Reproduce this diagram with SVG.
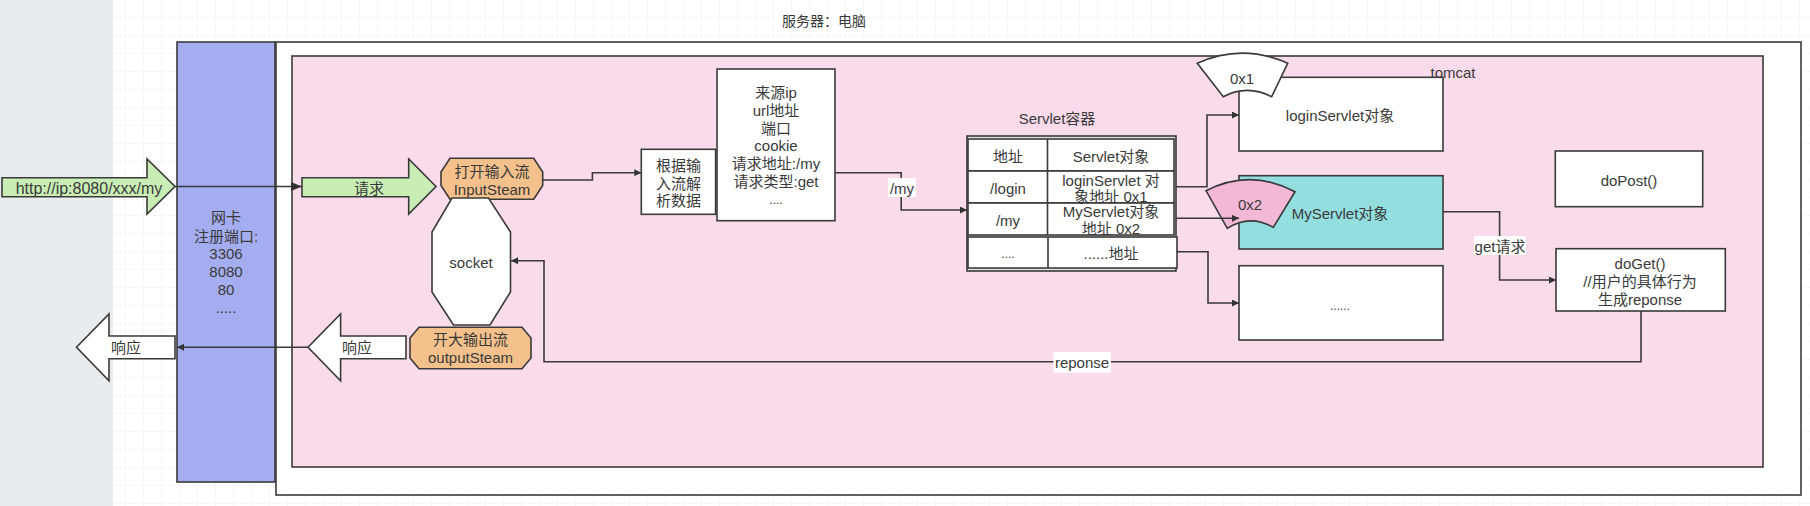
<svg xmlns="http://www.w3.org/2000/svg" width="1810" height="506" viewBox="0 0 1810 506">
<style>
text{font-family:"Liberation Sans","Noto Sans CJK SC",sans-serif;font-size:15px;fill:#3a3a3a;text-anchor:middle;dominant-baseline:central}
.s{stroke:#3a3a3a;stroke-width:1.6}
.w{fill:#fff}
.c{fill:none;stroke:#3a3a3a;stroke-width:1.6}
.lb{fill:#fff;stroke:none}
</style>
<defs>
<pattern id="grid" width="18" height="18" patternUnits="userSpaceOnUse">
<path d="M18 0V18M0 18H18" fill="none" stroke="#efefef" stroke-width="1"/>
</pattern>
<marker id="ah" viewBox="0 0 10 10" refX="10" refY="5" markerWidth="7" markerHeight="7" orient="auto" markerUnits="userSpaceOnUse">
<path d="M0 0L10 5L0 10Z" fill="#333"/>
</marker>
<marker id="ah2" viewBox="0 0 10 10" refX="10" refY="5" markerWidth="11" markerHeight="11" orient="auto" markerUnits="userSpaceOnUse">
<path d="M0 1L10 5L0 9Z" fill="#333"/>
</marker>
</defs>
<rect x="0" y="0" width="1810" height="506" fill="#fff"/>
<rect x="113" y="0" width="1697" height="506" fill="url(#grid)"/>
<rect x="0" y="0" width="113" height="506" fill="#e9ecee"/>

<text x="824" y="21" style="font-size:14px">服务器：电脑</text>

<g id="server"><rect x="276" y="42" width="1525" height="453" class="s w"/></g>
<g id="tomcat"><rect x="292" y="56" width="1471" height="411" class="s" fill="#fadbeb"/>
<text x="1453" y="72">tomcat</text></g>

<g id="nic"><rect x="177" y="42" width="98" height="440" class="s" fill="#a4adf0"/>
<text x="226" y="217">网卡</text>
<text x="226" y="236">注册端口:</text>
<text x="226" y="253">3306</text>
<text x="226" y="271">8080</text>
<text x="226" y="289">80</text>
<text x="226" y="307">.....</text></g>

<g id="http-arrow"><path d="M2 177.7H147V159L175 186.5L147 214V196.7H2Z" class="s" fill="#c9eeb5"/>
<text x="89" y="188" style="font-size:16px">http://ip:8080/xxx/my</text></g>

<g id="req-arrow"><path d="M302 177.7H408.7V159L436 186.5L408.7 214V196.7H302Z" class="s" fill="#c9eeb5"/>
<text x="369" y="188">请求</text></g>

<g id="resp-out"><path d="M175 336H109V314L76.5 347.3L109 380.7V358.7H175Z" class="s w"/>
<text x="126" y="347">响应</text></g>

<g id="resp-in"><path d="M406 336H340.6V314L308 347.3L340.6 380.7V358.7H406Z" class="s w"/>
<text x="357" y="347">响应</text></g>

<g id="inputsteam"><path d="M450 158.3H533.7L542.7 172V185.5L533.7 199.3H450L441 185.5V172Z" class="s" fill="#f4c08b"/>
<text x="492" y="171">打开输入流</text>
<text x="492" y="189">InputSteam</text></g>

<g id="socket"><path d="M452 198H488.5L510.5 232V292L490 325H453.5L432 292V232Z" class="s w"/>
<text x="471" y="262">socket</text></g>

<g id="outputsteam"><path d="M419 327.3H522L531 338V358L522 368.7H419L410 358V338Z" class="s" fill="#f4c08b"/>
<text x="470.5" y="339">开大输出流</text>
<text x="470.5" y="357">outputSteam</text></g>

<g id="parse"><rect x="641.3" y="149.3" width="74.3" height="65" class="s w"/>
<text x="678.5" y="165">根据输</text>
<text x="678.5" y="183">入流解</text>
<text x="678.5" y="200">析数据</text></g>

<g id="info"><rect x="717" y="69" width="118" height="151.7" class="s w"/>
<text x="776" y="92">来源ip</text>
<text x="776" y="110">url地址</text>
<text x="776" y="128">端口</text>
<text x="776" y="145">cookie</text>
<text x="776" y="163">请求地址:/my</text>
<text x="776" y="181">请求类型:get</text>
<text x="776" y="200" style="font-size:12px">....</text></g>

<g id="servlet-container">
<text x="1057" y="118">Servlet容器</text>
<rect x="967" y="136" width="209" height="135" class="s" fill="#e0e0e0"/>
<rect x="968" y="139" width="206" height="32" class="s w"/>
<rect x="968" y="171" width="206" height="32" class="s w"/>
<rect x="968" y="203" width="206" height="32" class="s w"/>
<rect x="968" y="237" width="209" height="31" class="s w"/>
<path d="M1047.5 139V235M1048 237V268" class="c"/>
<text x="1008" y="156">地址</text>
<text x="1111" y="156">Servlet对象</text>
<text x="1008" y="188">/login</text>
<text x="1111" y="180">loginServlet 对</text>
<text x="1111" y="196">象地址  0x1</text>
<text x="1008" y="220">/my</text>
<text x="1111" y="211">MyServlet对象</text>
<text x="1111" y="228">地址  0x2</text>
<text x="1008" y="254" style="font-size:12px">....</text>
<text x="1111" y="253">......地址</text>
</g>

<g id="login-servlet"><rect x="1239" y="77.3" width="204" height="73.7" class="s w"/>
<text x="1340" y="115">loginServlet对象</text></g>

<g id="my-servlet"><rect x="1239" y="175.7" width="204" height="73.3" class="s" fill="#93dfe0"/>
<text x="1340" y="213">MyServlet对象</text></g>

<g id="other-servlet"><rect x="1239" y="265.7" width="204" height="74.3" class="s w"/>
<text x="1340" y="306" style="font-size:12px">......</text></g>

<g id="addr-0x1"><path d="M1197.3 63.3Q1242 43 1287.7 63.3L1271.7 96.7Q1247 84 1223.3 96.7Z" class="s w"/>
<text x="1242" y="78">0x1</text></g>

<g id="addr-0x2"><path d="M1206 190.7Q1250 168 1295 191.7L1273.3 227.3Q1250 214 1227.3 228.3Z" class="s" fill="#f4b8d7"/>
<text x="1250" y="204">0x2</text></g>

<g id="dopost"><rect x="1555.3" y="151" width="147.4" height="55.7" class="s w"/>
<text x="1629" y="180">doPost()</text></g>

<g id="doget"><rect x="1556" y="248.7" width="169.3" height="62.3" class="s w"/>
<text x="1640" y="263">doGet()</text>
<text x="1640" y="281">//用户的具体行为</text>
<text x="1640" y="299">生成reponse</text></g>

<g id="connectors">
<path d="M175 186.5H302" class="c" marker-end="url(#ah2)"/>
<path d="M542.7 180H592.4V172.7H641.3" class="c" marker-end="url(#ah)"/>
<path d="M835 172.7H901.2V210H967" class="c" marker-end="url(#ah)"/>
<rect x="888" y="178" width="28" height="19" class="lb"/>
<text x="902" y="188">/my</text>
<path d="M1176 186.7H1207V115H1239" class="c" marker-end="url(#ah)"/>
<path d="M1176 218.3H1239" class="c" marker-end="url(#ah)"/>
<path d="M1177 251.7H1208V303H1239" class="c" marker-end="url(#ah)"/>
<path d="M1443 211.7H1499.6V280H1556" class="c" marker-end="url(#ah)"/>
<rect x="1474" y="236" width="52" height="19" class="lb"/>
<text x="1500" y="246">get请求</text>
<path d="M1641 311V361.7H544V260.7H511" class="c" marker-end="url(#ah)"/>
<rect x="1053.5" y="352" width="57.5" height="20.7" class="lb"/>
<text x="1082" y="362.5">reponse</text>
<path d="M308 347.3H177" class="c" marker-end="url(#ah)"/>
</g>
</svg>
